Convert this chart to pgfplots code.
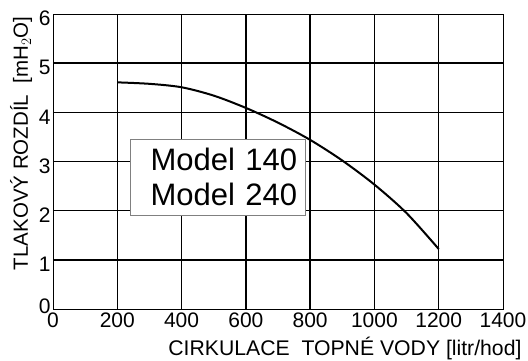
\documentclass[border=0pt]{standalone}
\usepackage{pgfplots}
\pgfplotsset{compat=1.18}
\usepackage{fontspec}
\setmainfont{Liberation Sans}
\begin{document}
\begin{tikzpicture}
\begin{axis}[
  scale only axis, width=450pt, height=295pt,
  xmin=0, xmax=1400, ymin=0, ymax=6,
  xtick={0,200,...,1400}, ytick={0,1,...,6},
  yticklabels={\raisebox{15pt}{0},1,2,3,4,5,\raisebox{-6pt}{6}},
  extra x ticks={200,400,...,1200}, extra x tick labels={},
  extra y ticks={1,2,...,5}, extra y tick labels={},
  extra x tick style={grid=major},
  extra y tick style={grid=major},
  major tick length=0pt,
  major grid style={black, line width=1.4pt},
  axis line style={black, line width=0.8pt},
  /pgf/number format/assume math mode=true,
  /pgf/number format/1000 sep={},
  tick label style={font=\fontsize{21}{23}\selectfont},
  xticklabel style={yshift=0pt},
  yticklabel style={xshift=1pt, yshift=-4.5pt},
  xlabel={CIRKULACE\ \ TOPNÉ VODY [litr/hod]},
  xlabel style={font=\fontsize{21.2}{23}\selectfont, at={(rel axis cs:1,0)}, anchor=base east, yshift=-46pt, xshift=22pt},
  ylabel={TLAKOVÝ ROZDÍL\ \ [mH$_2$O]},
  ylabel style={font=\fontsize{20.5}{22}\selectfont, at={(rel axis cs:0,1)}, anchor=base east, xshift=1pt, yshift=25pt},
]
\addplot[black, line width=2pt, smooth] coordinates {
(200,4.61) (300,4.58) (400,4.51) (500,4.34) (600,4.09) (700,3.79) (800,3.44) (900,3.02) (1000,2.53) (1100,1.95) (1200,1.22)
};
\node[draw=gray, line width=0.8pt, fill=white, anchor=north west, align=right, text width=159pt, inner xsep=8pt, inner ysep=9pt, font=\fontsize{31}{35}\selectfont] at (axis cs:238.6,3.46) {Model 140\\Model 240};
\end{axis}
\pgfresetboundingbox
\path (-53pt,-51pt) rectangle (475pt,309pt);
\end{tikzpicture}
\end{document}
